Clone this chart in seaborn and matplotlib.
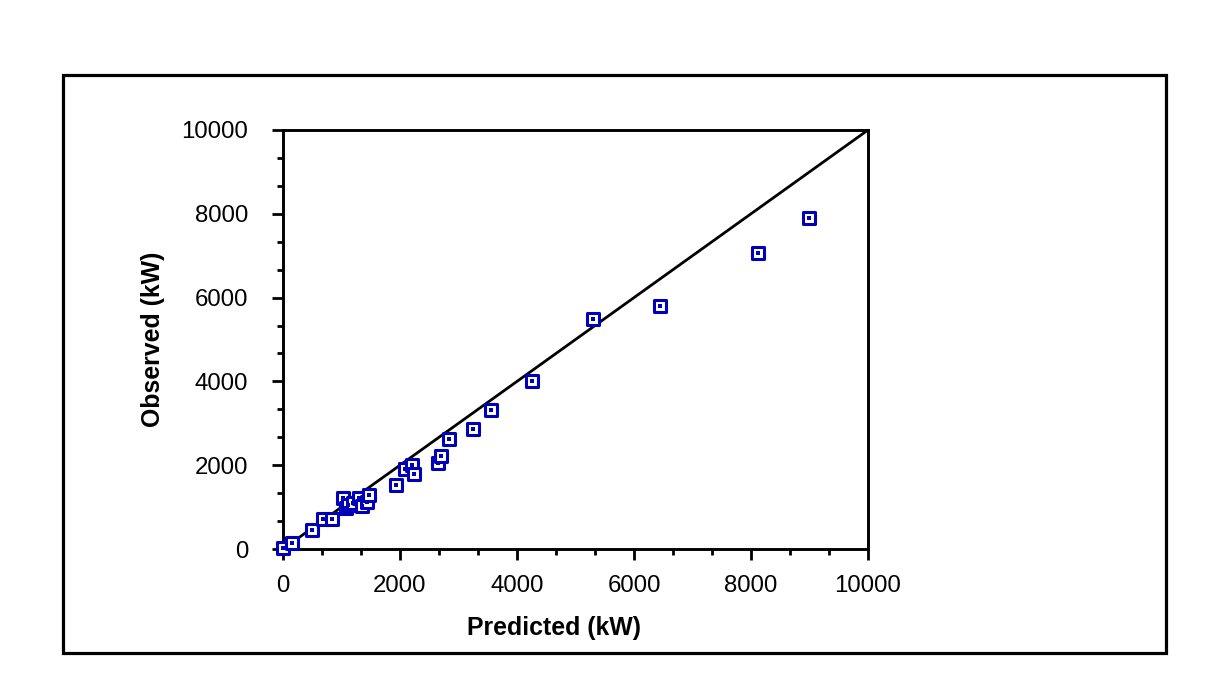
import matplotlib
matplotlib.use("Agg")
import matplotlib.pyplot as plt
import seaborn as sns
import pandas as pd
from matplotlib.patches import Rectangle
from matplotlib.ticker import MultipleLocator

# Data
predicted = [5, 148, 490, 689, 832, 1020, 1077, 1117, 1191, 1305, 1345, 1430, 1476,
             1932, 2085, 2199, 2245, 2655, 2695, 2843, 3254, 3560, 4251, 5305, 6444,
             8125, 8997]
observed = [17, 136, 453, 709, 709, 1210, 971, 1050, 1091, 1210, 1026, 1129, 1289,
            1527, 1902, 2005, 1782, 2045, 2220, 2618, 2864, 3317, 4017, 5482, 5800,
            7072, 7908]
line_x = [0, 10000]
line_y = [0, 10000]
x_ticks = [0, 2000, 4000, 6000, 8000, 10000]
y_ticks = [0, 2000, 4000, 6000, 8000, 10000]

df = pd.DataFrame({"Predicted": predicted, "Observed": observed})
df_line = pd.DataFrame({"x": line_x, "y": line_y})

sns.set_style("white")
plt.rcParams["font.family"] = ["Liberation Sans", "DejaVu Sans"]
plt.rcParams["text.color"] = "black"
plt.rcParams["axes.labelcolor"] = "black"

W, H = 1225, 699
fig = plt.figure(figsize=(W / 100, H / 100), dpi=100)
ax = fig.add_axes([283 / W, 1 - 549 / H, (868 - 283) / W, (549 - 130) / H])

blue = "#0000BB"
sns.lineplot(data=df_line, x="x", y="y", ax=ax, color="black", linewidth=2.0)
sns.scatterplot(data=df, x="Predicted", y="Observed", ax=ax, marker="s", s=64,
                facecolor="white", edgecolor=blue, linewidth=2.2, zorder=3,
                clip_on=False)
sns.scatterplot(data=df, x="Predicted", y="Observed", ax=ax, marker="s", s=6,
                color=blue, linewidth=0, zorder=4, clip_on=False)

ax.set_xlim(0, 10000)
ax.set_ylim(0, 10000)
ax.set_xticks(x_ticks)
ax.set_yticks(y_ticks)
ax.set_xticklabels([str(t) for t in x_ticks])
ax.set_yticklabels([str(t) for t in y_ticks])
ax.xaxis.set_minor_locator(MultipleLocator(2000 / 3))
ax.yaxis.set_minor_locator(MultipleLocator(2000 / 3))
ax.tick_params(which="major", direction="out", length=8, width=2, labelsize=17.3,
               colors="black", labelcolor="black", pad=11)
ax.tick_params(which="minor", direction="out", length=4, width=2, colors="black")
ax.tick_params(axis="y", which="major", pad=17)
ax.tick_params(bottom=True, left=True, top=False, right=False)
ax.tick_params(which="minor", bottom=True, left=True, top=False, right=False)

for sp in ax.spines.values():
    sp.set_visible(True)
    sp.set_linewidth(2.1)
    sp.set_color("black")

ax.set_xlabel("Predicted (kW)", fontsize=17.9, fontweight="bold", color="black")
ax.set_ylabel("Observed (kW)", fontsize=17.9, fontweight="bold", color="black")
ax.xaxis.set_label_coords((554 - 283) / 585, (549 - 616) / 419)
ax.yaxis.set_label_coords((165 - 283) / 585, 0.5)

fig.patches.append(Rectangle((63 / W, 1 - 653 / H), (1166 - 63) / W, (653 - 75) / H,
                             transform=fig.transFigure, fill=False,
                             edgecolor="black", linewidth=2.3))

fig.savefig("out.png", dpi=100, facecolor="white")
